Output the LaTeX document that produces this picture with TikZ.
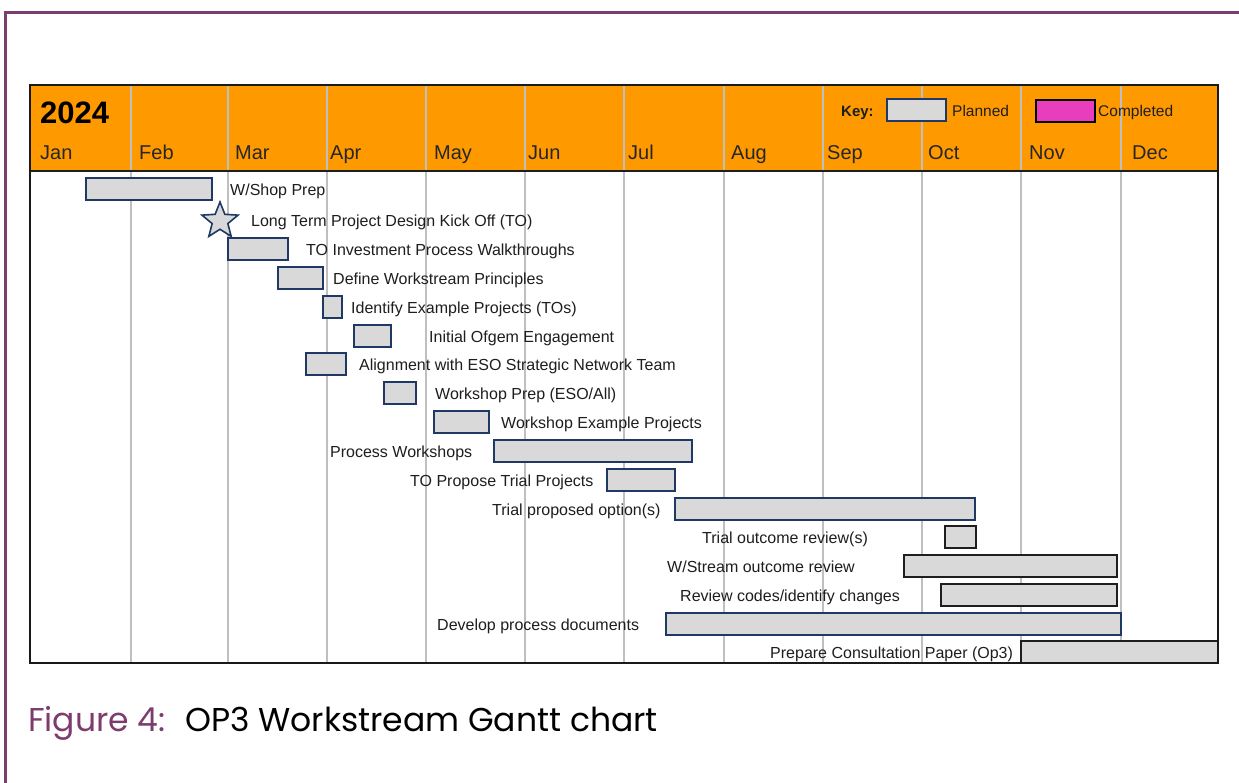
\documentclass[tikz,border=0pt]{standalone}
\usepackage{fontspec}
\setmainfont{Liberation Sans}
\newfontfamily\capfont{Poppins}
\usetikzlibrary{shapes.geometric,fit}

\definecolor{framepurple}{RGB}{125,60,110}
\definecolor{hdrorange}{RGB}{255,153,0}
\definecolor{gridgray}{RGB}{191,191,191}
\definecolor{barfill}{RGB}{217,217,217}
\definecolor{navy}{RGB}{31,56,100}
\definecolor{ink}{RGB}{30,30,30}
\definecolor{donepink}{RGB}{232,62,190}

% one Gantt bar: name, start x, end x, row centre y, style
\newcommand\gbar[5]{\node[#5, fit={(#2,#4-11) (#3,#4+11)}] (#1) {};}

\begin{document}
\begin{tikzpicture}[x=1pt,y=-1pt,
  bar/.style={draw=navy, fill=barfill, line width=1.6pt, inner sep=0pt},
  darkbar/.style={bar, draw=ink},
  lbl/.style={anchor=base west, inner sep=0pt, text=ink, font=\fontsize{16}{19}\selectfont},
  mon/.style={anchor=base west, inner sep=0pt, text=black!85, font=\fontsize{20}{24}\selectfont},
  gridline/.style={draw=gridgray, line width=1.2pt},
  keytxt/.style={anchor=base west, inner sep=0pt, text=ink, font=\fontsize{15.5}{18}\selectfont},
  captxt/.style={anchor=base west, inner sep=0pt, font=\capfont\fontsize{33}{38}\selectfont}]

\useasboundingbox (0,0) rectangle (1239,782);
\fill[white] (0,0) rectangle (1239,782);

% page frame
\draw[framepurple, line width=3pt] (5,790) -- (5,12) -- (1245,12);

% chart area and header band
\fill[white] (30,85) rectangle (1218,663);
\fill[hdrorange] (30,85) rectangle (1218,171);
\foreach \gx in {131,228,327,426,525,624,724,823,922,1021,1121}
  \draw[gridline] (\gx,86) -- (\gx,662);
\draw[ink, line width=2pt] (30,171) -- (1218,171);

% header text
\node[anchor=base west, inner sep=0pt, font=\bfseries\fontsize{31}{36}\selectfont] (year) at (40,123) {2024};
\foreach \m/\mx in {Jan/40,Feb/139,Mar/235,Apr/330,May/434,Jun/528,Jul/628,Aug/731,Sep/827,Oct/928,Nov/1029,Dec/1132}
  \node[mon] (m-\m) at (\mx,159) {\m};

% key
\node[keytxt, font=\bfseries\fontsize{15}{18}\selectfont] (keyhd) at (841,116) {Key:};
\node[bar, fit={(887,99) (946,121)}] (keyplan) {};
\node[keytxt] (keyplantxt) at (952,116) {Planned};
\node[bar, draw=black, fill=donepink, fit={(1036,100) (1095,122)}] (keydone) {};
\node[keytxt] (keydonetxt) at (1098,116) {Completed};

% tasks
\gbar{t1}{86}{212}{189}{bar}
\node[lbl] (l1) at (230,195) {W/Shop Prep};
\node[star, star points=5, star point ratio=2.3, minimum size=38pt, inner sep=0pt,
      draw=navy, fill=barfill, line width=1.6pt] (t2) at (220,221) {};
\node[lbl] (l2) at (251,226) {Long Term Project Design Kick Off (TO)};
\gbar{t3}{228}{288}{249}{bar}
\node[lbl] (l3) at (306,255) {TO Investment Process Walkthroughs};
\gbar{t4}{278}{323}{278}{bar}
\node[lbl] (l4) at (333,284) {Define Workstream Principles};
\gbar{t5}{323}{342}{307}{bar}
\node[lbl] (l5) at (351,313) {Identify Example Projects (TOs)};
\gbar{t6}{354}{391}{336}{bar}
\node[lbl] (l6) at (429,342) {Initial Ofgem Engagement};
\gbar{t7}{306}{346}{364}{bar}
\node[lbl] (l7) at (359,370) {Alignment with ESO Strategic Network Team};
\gbar{t8}{384}{416}{393}{bar}
\node[lbl] (l8) at (435,399) {Workshop Prep (ESO/All)};
\gbar{t9}{434}{489}{422}{bar}
\node[lbl] (l9) at (501,428) {Workshop Example Projects};
\gbar{t10}{494}{692}{451}{bar}
\node[lbl] (l10) at (330,457) {Process Workshops};
\gbar{t11}{607}{675}{480}{bar}
\node[lbl] (l11) at (410,486) {TO Propose Trial Projects};
\gbar{t12}{675}{975}{509}{bar}
\node[lbl] (l12) at (492,515) {Trial proposed option(s)};
\gbar{t13}{945}{976}{537}{darkbar}
\node[lbl] (l13) at (702,543) {Trial outcome review(s)};
\gbar{t14}{904}{1117}{566}{darkbar}
\node[lbl] (l14) at (667,572) {W/Stream outcome review};
\gbar{t15}{941}{1117}{595}{darkbar}
\node[lbl] (l15) at (680,601) {Review codes/identify changes};
\gbar{t16}{666}{1121}{624}{bar}
\node[lbl] (l16) at (437,630) {Develop process documents};
\gbar{t17}{1021}{1218}{652}{darkbar}
\node[lbl] (l17) at (770,658) {Prepare Consultation Paper (Op3)};

% chart border
\draw[black!90, line width=2.2pt] (30,85) rectangle (1218,663);

% caption
\node[captxt, text=framepurple] (figno) at (28,731) {Figure 4:};
\node[captxt, text=black] (figtitle) at (185,731) {OP3 Workstream Gantt chart};
\end{tikzpicture}
\end{document}
